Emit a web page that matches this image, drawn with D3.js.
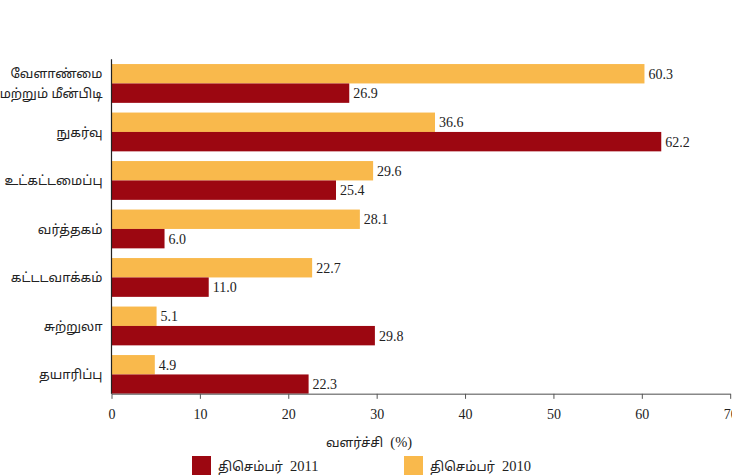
<!DOCTYPE html>
<html>
<head>
<meta charset="utf-8">
<script src="https://cdn.jsdelivr.net/npm/d3@7"></script>
<style>
  html, body { margin: 0; padding: 0; background: #fff; }
  svg { display: block; }
  .num { font-family: "Liberation Serif", "Times New Roman", serif; font-size: 14px; fill: #222; }
  .tam { font-family: "Noto Sans Tamil", "Noto Serif Tamil", "Lohit Tamil", "Latha", sans-serif; font-size: 13px; fill: #222; }
  .latin { font-family: "Liberation Serif", "Times New Roman", serif; font-size: 14.5px; }
</style>
</head>
<body>
<svg id="chart" width="732" height="476"></svg>
<script>
// Sectors (top to bottom); the first one wraps over two lines
const categories = [
  ["வேளாண்மை", "மற்றும் மீன்பிடி"],
  ["நுகர்வு"],
  ["உட்கட்டமைப்பு"],
  ["வர்த்தகம்"],
  ["கட்டடவாக்கம்"],
  ["சுற்றுலா"],
  ["தயாரிப்பு"]
];
const values2010 = [60.3, 36.6, 29.6, 28.1, 22.7, 5.1, 4.9];
const values2011 = [26.9, 62.2, 25.4, 6.0, 11.0, 29.8, 22.3];
const xTicks = [0, 10, 20, 30, 40, 50, 60, 70];
const seriesNames = ["திசெம்பர் 2011", "திசெம்பர் 2010"];
const axisTitle = "வளர்ச்சி (%)";

const colors = { y2011: "#9c0711", y2010: "#f9b94c" };

const svg = d3.select("#chart");
const plotLeft = 111.5, plotRight = 730.2, plotTop = 59.2, plotBottom = 398.7;

const x = d3.scaleLinear().domain([0, 70]).range([plotLeft, plotRight]);
const keys = categories.map((c, i) => i);
const y = d3.scaleBand().domain(keys).range([plotTop, plotBottom])
  .paddingInner(0.2).paddingOuter(0.1);
const sub = d3.scaleBand().domain(["y2010", "y2011"]).range([0, y.bandwidth()]);

const axisY = y(keys[keys.length - 1]) + y.bandwidth();

const rows = keys.map(i => ({ i, y2010: values2010[i], y2011: values2011[i] }));

// Writes mixed Tamil / Latin text: digits and symbols go in the serif face
function mixedText(sel, str) {
  const parts = str.match(/[\u0B80-\u0BFF]+|[^\u0B80-\u0BFF]+/g) || [];
  parts.forEach(p => {
    const isTamil = /[\u0B80-\u0BFF]/.test(p);
    sel.append("tspan").attr("class", isTamil ? null : "latin")
      .text(isTamil ? p : p.replace(/ /g, "\u00a0\u00a0"));
  });
}

// Bars and value labels
const g = svg.append("g");
["y2010", "y2011"].forEach(k => {
  g.selectAll("rect." + k).data(rows).join("rect")
    .attr("class", k)
    .attr("x", x(0))
    .attr("y", d => y(d.i) + sub(k))
    .attr("width", d => x(d[k]) - x(0))
    .attr("height", sub.bandwidth())
    .attr("fill", colors[k]);
  g.selectAll("text." + k).data(rows).join("text")
    .attr("class", k + " num")
    .attr("x", d => x(d[k]) + 4)
    .attr("y", d => y(d.i) + sub(k) + sub.bandwidth() / 2)
    .attr("dy", "0.35em")
    .text(d => d3.format(".1f")(d[k]));
});

// X axis
const xAxis = svg.append("g")
  .attr("transform", `translate(0,${axisY})`)
  .call(d3.axisBottom(x).tickValues(xTicks).tickSize(5).tickSizeOuter(0).tickPadding(10));
xAxis.attr("font-size", null).attr("font-family", null);
xAxis.select(".domain").attr("stroke", "#888").attr("stroke-width", 1.5);
xAxis.selectAll(".tick line").attr("stroke", "#555");
xAxis.selectAll(".tick text").attr("class", "num");

// Y axis line
svg.append("line")
  .attr("x1", plotLeft).attr("x2", plotLeft)
  .attr("y1", plotTop).attr("y2", axisY)
  .attr("stroke", "#222").attr("stroke-width", 1.2);

// Category labels
svg.selectAll("text.cat").data(categories).join("text")
  .attr("class", "cat tam")
  .attr("text-anchor", "end")
  .attr("y", (d, i) => y(i) + y.bandwidth() / 2 - (d.length - 1) * 10)
  .each(function (d) {
    const t = d3.select(this);
    d.forEach((line, j) => {
      t.append("tspan").attr("x", plotLeft - 9).attr("dy", j === 0 ? "0.35em" : "20px").text(line);
    });
  });

// Axis title
svg.append("text")
  .attr("class", "tam")
  .attr("text-anchor", "middle")
  .attr("x", 369)
  .attr("y", 442)
  .attr("dy", "0.35em")
  .call(mixedText, axisTitle);

// Legend
const legend = [
  { name: seriesNames[0], color: colors.y2011, x: 192 },
  { name: seriesNames[1], color: colors.y2010, x: 404 }
];
const lg = svg.selectAll("g.legend").data(legend).join("g")
  .attr("class", "legend")
  .attr("transform", d => `translate(${d.x},456)`);
lg.append("rect").attr("width", 19).attr("height", 19).attr("fill", d => d.color);
lg.append("text").attr("class", "tam").attr("x", 26).attr("y", 10).attr("dy", "0.35em")
  .each(function (d) { mixedText(d3.select(this), d.name); });
</script>
</body>
</html>
